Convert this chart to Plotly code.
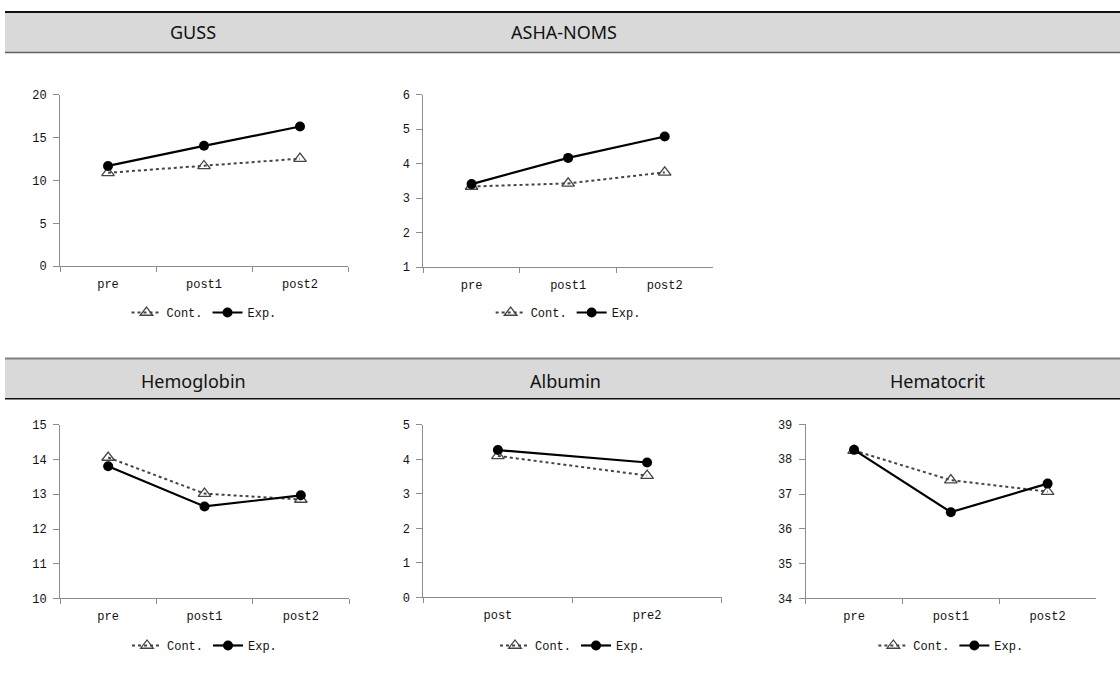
import plotly.graph_objects as go

W, H = 1120, 676

# ---------------- data ----------------
titles = ["GUSS", "ASHA-NOMS", "Hemoglobin", "Albumin", "Hematocrit"]
cats_3 = ["pre", "post1", "post2"]
cats_alb = ["post", "pre2"]

guss_cont = [10.9, 11.7, 12.55]
guss_exp = [11.7, 14.05, 16.3]

asha_cont = [3.34, 3.43, 3.75]
asha_exp = [3.41, 4.17, 4.79]

hgb_cont = [14.06, 13.02, 12.85]
hgb_exp = [13.81, 12.65, 12.97]

alb_cont = [4.1, 3.53]
alb_exp = [4.27, 3.91]

hct_cont = [38.25, 37.4, 37.07]
hct_exp = [38.27, 36.48, 37.3]

y_ranges = [[0, 20], [1, 6], [10, 15], [0, 5], [34, 39]]
y_dticks = [5, 1, 1, 1, 1]
series_names = ["Cont.", "Exp."]

panel_cats = [cats_3, cats_3, cats_3, cats_alb, cats_3]
panel_cont = [guss_cont, asha_cont, hgb_cont, alb_cont, hct_cont]
panel_exp = [guss_exp, asha_exp, hgb_exp, alb_exp, hct_exp]

# ---------------- layout geometry (pixels) ----------------
# (x0, x1, ytop, ybottom)
boxes = [
    (60, 348, 90.7, 265.7),
    (423.3, 713, 90.7, 266.7),
    (60, 349, 427.7, 605),
    (423.3, 721.7, 427.7, 604),
    (805.7, 1096, 427.3, 605),
]
title_pos = [(193, 27), (564, 27), (193, 383), (565, 383), (938, 383)]
legend_y = [313, 313, 653, 653, 653]

def px(x):
    return x / W

def py(y):
    return 1 - y / H

tick_font = dict(family="Liberation Mono, DejaVu Sans Mono, monospace", size=12, color="#111")

fig = go.Figure()
layout = dict(
    width=W, height=H,
    margin=dict(l=0, r=0, t=0, b=0),
    paper_bgcolor="white", plot_bgcolor="white",
    showlegend=True,
)

for i in range(5):
    n = "" if i == 0 else str(i + 1)
    xa, ya = "x" + n, "y" + n
    leg = "legend" if i == 0 else "legend" + str(i + 1)
    cats = panel_cats[i]
    fig.add_trace(go.Scatter(
        x=cats, y=panel_cont[i], name=series_names[0], mode="lines+markers",
        xaxis=xa, yaxis=ya, legend=leg,
        line=dict(color="#444444", width=2, dash="dot"),
        marker=dict(symbol="triangle-up-open", size=11, color="#444444",
                    line=dict(width=1.3, color="#444444")),
        cliponaxis=False,
    ))
    fig.add_trace(go.Scatter(
        x=cats, y=panel_exp[i], name=series_names[1], mode="lines+markers",
        xaxis=xa, yaxis=ya, legend=leg,
        line=dict(color="black", width=2.2),
        marker=dict(symbol="circle", size=10, color="black"),
        cliponaxis=False,
    ))
    x0, x1, yt, yb = boxes[i]
    layout["xaxis" + n] = dict(
        domain=[px(x0), px(x1)], anchor=ya,
        type="category", range=[-0.5, len(cats) - 0.5],
        showline=True, linecolor="#8c8c8c", linewidth=1,
        ticks="outside", ticklen=5, tickcolor="#8c8c8c", tickson="boundaries",
        ticklabelstandoff=6,
        showgrid=False, zeroline=False, tickfont=tick_font, fixedrange=True,
    )
    layout["yaxis" + n] = dict(
        domain=[py(yb), py(yt)], anchor=xa,
        range=y_ranges[i], dtick=y_dticks[i], tick0=y_ranges[i][0],
        showline=True, linecolor="#8c8c8c", linewidth=1,
        ticks="outside", ticklen=6, tickcolor="#8c8c8c",
        ticklabelstandoff=4,
        showgrid=False, zeroline=False, tickfont=tick_font, fixedrange=True,
    )
    layout[leg] = dict(
        x=px((x0 + x1) / 2), y=py(legend_y[i]), xanchor="center", yanchor="middle",
        orientation="h", font=tick_font, bgcolor="rgba(0,0,0,0)",
        tracegroupgap=0,
    )

# header bands
shapes = [
    dict(type="rect", xref="paper", yref="paper", x0=px(5), x1=1, y0=py(47.5), y1=py(6),
         fillcolor="#d9d9d9", line=dict(width=0), layer="below"),
    dict(type="line", xref="paper", yref="paper", x0=px(5), x1=1, y0=py(6), y1=py(6),
         line=dict(color="#111111", width=2)),
    dict(type="line", xref="paper", yref="paper", x0=px(5), x1=1, y0=py(47.5), y1=py(47.5),
         line=dict(color="#606060", width=1.5)),
    dict(type="rect", xref="paper", yref="paper", x0=px(5), x1=1, y0=py(401), y1=py(360),
         fillcolor="#d9d9d9", line=dict(width=0), layer="below"),
    dict(type="line", xref="paper", yref="paper", x0=px(5), x1=1, y0=py(360), y1=py(360),
         line=dict(color="#808080", width=2)),
    dict(type="line", xref="paper", yref="paper", x0=px(5), x1=1, y0=py(401), y1=py(401),
         line=dict(color="#111111", width=1.5)),
]
layout["shapes"] = shapes

annotations = []
for t, (tx, ty) in zip(titles, title_pos):
    annotations.append(dict(
        text=t, x=px(tx), y=py(ty), xref="paper", yref="paper",
        xanchor="center", yanchor="middle", showarrow=False,
        font=dict(family="Noto Sans, Open Sans, sans-serif", size=18, color="#111"),
    ))
layout["annotations"] = annotations

fig.update_layout(**layout)
fig.write_html(
    "out.html",
    config={"displayModeBar": False},
    post_script="document.body.style.margin='0';document.body.style.overflow='hidden';",
)
